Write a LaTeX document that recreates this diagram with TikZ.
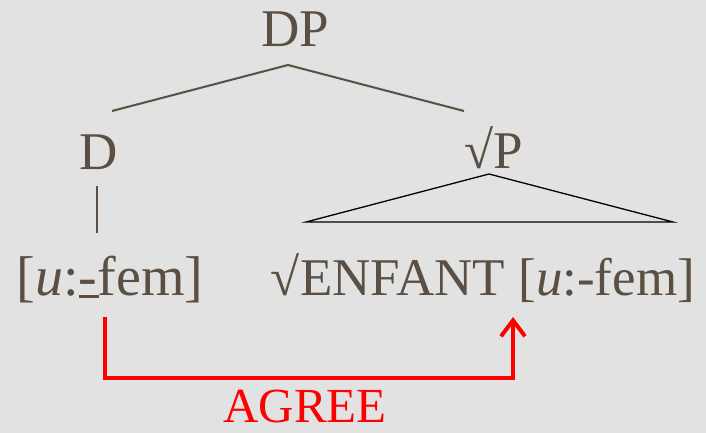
\documentclass[tikz,border=0pt]{standalone}
\usepackage{fontspec}
\setmainfont{Liberation Serif}
\usetikzlibrary{arrows.meta}
\definecolor{bg}{RGB}{226,226,226}
\definecolor{ink}{RGB}{90,79,66}
\definecolor{agr}{RGB}{255,0,0}
\newcommand{\ulhyph}{\rlap{\rule[-2.5pt]{0.36em}{2.2pt}}-}
\tikzset{
  lbl/.style={anchor=base, inner sep=0pt, text=ink, font=\fontsize{53}{60}\selectfont},
  branch/.style={draw=ink, line width=2pt},
  tri/.style={draw=black, line width=1.3pt},
  agreeline/.style={draw=agr, line width=4pt, line join=miter,
    -{Straight Barb[length=16pt, width=24pt, line width=4pt]}}
}
\begin{document}
\begin{tikzpicture}[x=1pt,y=-1pt]
\fill[bg] (0,0) rectangle (706,433);
\useasboundingbox (0,0) rectangle (706,433);
% labels
\node[lbl] (DP) at (295,47) {DP};
\node[lbl] (D) at (99,169) {D};
\node[lbl] (VP) at (494,168) {√P};
\node[lbl, font=\fontsize{56}{62}\selectfont] (L) at (110,295) {[\textit{u}:\ulhyph fem]};
\node[lbl] (R) at (483,295) {√ENFANT [\textit{u}:-fem]};
\node[lbl, text=agr, font=\fontsize{49}{56}\selectfont] (AG) at (305,422) {AGREE};
% branch points
\coordinate (dpb) at (288,65);
\coordinate (dl) at (112,111);
\coordinate (dr) at (464,111);
\coordinate (dt) at (97,186);
\coordinate (db) at (97,233);
\coordinate (vpa) at (489,174);
\coordinate (tl) at (306,222);
\coordinate (tr) at (673,222);
\coordinate (a1) at (105,317);
\coordinate (a2) at (105,378);
\coordinate (a3) at (513,378);
\coordinate (a4) at (513,317);
% tree
\draw[branch] (dl) -- (dpb) -- (dr);
\draw[branch] (dt) -- (db);
\draw[tri] (vpa) -- (tl) -- (tr) -- cycle;
% agree arrow
\draw[agreeline] (a1) -- (a2) -- (a3) -- (a4);
\end{tikzpicture}
\end{document}
